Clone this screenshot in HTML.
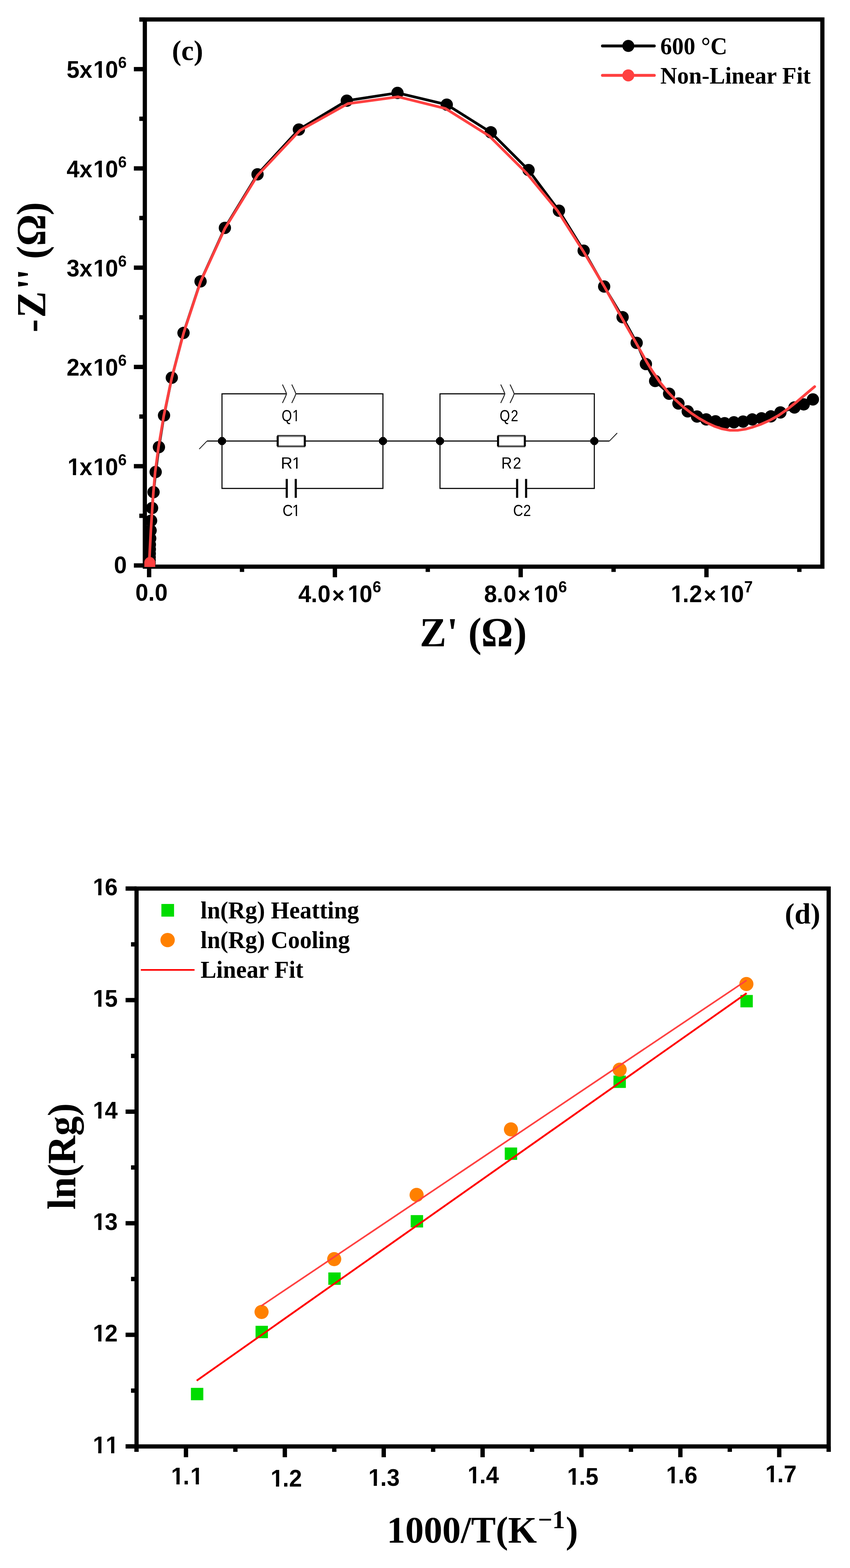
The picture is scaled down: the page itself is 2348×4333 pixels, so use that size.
<!DOCTYPE html>
<html lang="en">
<head>
<meta charset="utf-8">
<title>Impedance plots</title>
<style>
html,body{margin:0;padding:0;background:#fff;}
body{width:2348px;height:4333px;overflow:hidden;}
svg{display:block;}
text{white-space:pre;}
.tk{font-family:'Liberation Sans', Arial, sans-serif;font-weight:bold;font-size:64px;fill:#000;}
.sup{font-family:'Liberation Sans', Arial, sans-serif;font-weight:bold;font-size:42.5px;fill:#000;}
.lg{font-family:'Liberation Serif', 'Times New Roman', serif;font-weight:bold;font-size:64.4px;fill:#000;}
.pl{font-family:'Liberation Serif', 'Times New Roman', serif;font-weight:bold;font-size:77.5px;fill:#000;}
.ttl{font-family:'Liberation Serif', 'Times New Roman', serif;font-weight:bold;font-size:110px;fill:#000;}
.ct{font-family:'Liberation Sans', Arial, sans-serif;font-size:44.5px;fill:#000;}
</style>
</head>
<body>
<svg width="2348" height="4333" viewBox="0 0 2348 4333">
<rect x="0" y="0" width="2348" height="4333" fill="#ffffff"/>

<g id="plot-c">
<clipPath id="clipc"><rect x="394.1" y="53.8" width="1877.6" height="1512.9"/></clipPath>
<rect x="400.1" y="53.8" width="1871.6" height="1512.1000000000001" stroke="#000" stroke-width="11.6" fill="none"/>
<g stroke="#000" stroke-width="12" fill="none">
<line x1="369.8" y1="1562.6" x2="400.1" y2="1562.6"/>
<line x1="369.8" y1="1288.3" x2="400.1" y2="1288.3"/>
<line x1="369.8" y1="1014.0" x2="400.1" y2="1014.0"/>
<line x1="369.8" y1="739.7" x2="400.1" y2="739.7"/>
<line x1="369.8" y1="465.4" x2="400.1" y2="465.4"/>
<line x1="369.8" y1="191.1" x2="400.1" y2="191.1"/>
<line x1="384.8" y1="1425.4" x2="400.1" y2="1425.4"/>
<line x1="384.8" y1="1151.1" x2="400.1" y2="1151.1"/>
<line x1="384.8" y1="876.8" x2="400.1" y2="876.8"/>
<line x1="384.8" y1="602.5" x2="400.1" y2="602.5"/>
<line x1="384.8" y1="328.2" x2="400.1" y2="328.2"/>
<line x1="384.8" y1="53.9" x2="400.1" y2="53.9"/>
<line x1="411.9" y1="1565.9" x2="411.9" y2="1595.2"/>
<line x1="925.1" y1="1565.9" x2="925.1" y2="1595.2"/>
<line x1="1438.3" y1="1565.9" x2="1438.3" y2="1595.2"/>
<line x1="1951.5" y1="1565.9" x2="1951.5" y2="1595.2"/>
<line x1="668.5" y1="1565.9" x2="668.5" y2="1580.5"/>
<line x1="1181.7" y1="1565.9" x2="1181.7" y2="1580.5"/>
<line x1="1694.9" y1="1565.9" x2="1694.9" y2="1580.5"/>
<line x1="2208.1" y1="1565.9" x2="2208.1" y2="1580.5"/>
</g>
<g id="circuit" stroke="#000" fill="none" stroke-width="2.9">
<path d="M791.6 1088.2 H613.2 V1349.7 H792.1 M817.0 1349.7 H1057.8 V1088.2 H817.4"/>
<path d="M613.2 1218.8 H766.2 M842.8 1218.8 H1057.8"/>
<rect x="767.05" y="1203.45" width="74.90" height="30.90" stroke="#333" stroke-width="2.9" fill="#fff"/>
<path d="M769.9 1206.35 H839.1 M769.9 1231.45 H839.1" stroke="#888" stroke-width="2.9"/>
<path d="M767.05 1204.9 V1232.9 M841.95 1204.9 V1232.9" stroke="#000" stroke-width="5.7"/>
<path d="M780.2 1062.6 L788.0 1079 L791.6 1088.2 L788.0 1097.4 L780.2 1113.6" stroke="#2b2b2b" stroke-width="2.7" stroke-linejoin="round"/>
<path d="M806.0 1062.6 L813.8 1079 L817.4 1088.2 L813.8 1097.4 L806.0 1113.6" stroke="#2b2b2b" stroke-width="2.7" stroke-linejoin="round"/>
<path d="M792.1 1323.4 V1375.7 M817.0 1323.4 V1375.7" stroke-width="5.9"/>
<path d="M608.8 1207.8 H617.6 L624.2 1214.4 V1223.2 L617.6 1229.8 H608.8 L602.2 1223.2 V1214.4 Z" fill="#000" stroke="none"/>
<path d="M1053.4 1207.8 H1062.2 L1068.8 1214.4 V1223.2 L1062.2 1229.8 H1053.4 L1046.8 1223.2 V1214.4 Z" fill="#000" stroke="none"/>
<path d="M1394.6 1088.2 H1215.4 V1349.7 H1428.5 M1453.3 1349.7 H1641.7 V1088.2 H1420.4"/>
<path d="M1215.4 1218.8 H1374.9 M1450.6 1218.8 H1641.7"/>
<rect x="1375.75" y="1203.45" width="74.00" height="30.90" stroke="#333" stroke-width="2.9" fill="#fff"/>
<path d="M1378.6 1206.35 H1446.9 M1378.6 1231.45 H1446.9" stroke="#888" stroke-width="2.9"/>
<path d="M1375.75 1204.9 V1232.9 M1449.75 1204.9 V1232.9" stroke="#000" stroke-width="5.7"/>
<path d="M1383.2 1062.6 L1391.0 1079 L1394.6 1088.2 L1391.0 1097.4 L1383.2 1113.6" stroke="#2b2b2b" stroke-width="2.7" stroke-linejoin="round"/>
<path d="M1409.0 1062.6 L1416.8 1079 L1420.4 1088.2 L1416.8 1097.4 L1409.0 1113.6" stroke="#2b2b2b" stroke-width="2.7" stroke-linejoin="round"/>
<path d="M1428.5 1323.4 V1375.7 M1453.3 1323.4 V1375.7" stroke-width="5.9"/>
<path d="M1211.0 1207.8 H1219.8 L1226.4 1214.4 V1223.2 L1219.8 1229.8 H1211.0 L1204.4 1223.2 V1214.4 Z" fill="#000" stroke="none"/>
<path d="M1637.3 1207.8 H1646.1 L1652.7 1214.4 V1223.2 L1646.1 1229.8 H1637.3 L1630.7 1223.2 V1214.4 Z" fill="#000" stroke="none"/>
<path d="M1057.8 1218.8 H1215.4"/>
<path d="M613.2 1218.8 H571.8"/>
<path d="M1641.7 1218.8 H1683.4"/>
<path d="M571.8 1218.8 L550.3 1241.0 M1683.4 1218.8 L1704.9 1196.6" stroke-width="2.3" stroke="#1c1c1c"/>
</g>
<g transform="translate(777.9,1164.4) scale(0.82,1)">
<text class="ct" x="0 36.0" y="0">Q1</text>
<path d="M38.39 -4.52 H47.19 V1.2 H38.39 Z M51.12 -4.52 H59.57 V1.2 H51.12 Z" fill="#fff"/>
</g>
<g transform="translate(775.8,1294.9) scale(1.0,1)">
<text class="ct" x="0 30.9" y="0">R1</text>
<path d="M33.26 -4.52 H42.06 V1.2 H33.26 Z M45.99 -4.52 H54.44 V1.2 H45.99 Z" fill="#fff"/>
</g>
<g transform="translate(780.4,1425.6) scale(0.89,1)">
<text class="ct" x="0 30.0" y="0">C1</text>
<path d="M32.39 -4.52 H41.19 V1.2 H32.39 Z M45.12 -4.52 H53.58 V1.2 H45.12 Z" fill="#fff"/>
</g>
<g transform="translate(1380.2,1164.4) scale(0.82,1)">
<text class="ct" x="0 37.9" y="0">Q2</text>
</g>
<g transform="translate(1384.8,1294.9) scale(0.92,1)">
<text class="ct" x="0 35.0" y="0">R2</text>
</g>
<g transform="translate(1417.4,1425.9) scale(0.86,1)">
<text class="ct" x="0 32.6" y="0">C2</text>
</g>
<g clip-path="url(#clipc)">
<polyline fill="none" stroke="#000" stroke-width="7.4" stroke-linejoin="round" points="413.3,1555.6 413.4,1548.0 413.5,1540.0 413.7,1530.0 413.9,1518.0 414.0,1505.0 414.9,1487.7 416.0,1466.0 417.4,1438.8 420.1,1403.9 424.1,1360.0 430.0,1304.3 439.0,1235.5 453.1,1147.9 474.6,1043.8 506.9,920.1 554.0,777.6 621.2,629.7 711.4,481.8 825.6,358.0 958.0,278.2 1098.0,256.7 1234.1,289.2 1355.8,365.6 1460.1,469.9 1544.0,582.3 1612.3,692.7 1668.9,791.8 1719.8,876.6 1758.7,947.5 1784.2,1006.1 1809.7,1052.8 1848.3,1088.0 1874.1,1115.0 1899.7,1136.8 1925.4,1151.0 1950.8,1159.0 1976.5,1164.3 2001.6,1169.5 2027.2,1167.0 2052.6,1165.0 2078.1,1159.1 2103.6,1156.0 2129.4,1150.6 2155.8,1139.8 2194.5,1126.0 2220.1,1117.4 2245.5,1103.7"/>
<circle cx="413.3" cy="1555.6" r="17" fill="#000"/>
<circle cx="413.4" cy="1548.0" r="17" fill="#000"/>
<circle cx="413.5" cy="1540.0" r="17" fill="#000"/>
<circle cx="413.7" cy="1530.0" r="17" fill="#000"/>
<circle cx="413.9" cy="1518.0" r="17" fill="#000"/>
<circle cx="414.0" cy="1505.0" r="17" fill="#000"/>
<circle cx="414.9" cy="1487.7" r="17" fill="#000"/>
<circle cx="416.0" cy="1466.0" r="17" fill="#000"/>
<circle cx="417.4" cy="1438.8" r="17" fill="#000"/>
<circle cx="420.1" cy="1403.9" r="17" fill="#000"/>
<circle cx="424.1" cy="1360.0" r="17" fill="#000"/>
<circle cx="430.0" cy="1304.3" r="17" fill="#000"/>
<circle cx="439.0" cy="1235.5" r="17" fill="#000"/>
<circle cx="453.1" cy="1147.9" r="17" fill="#000"/>
<circle cx="474.6" cy="1043.8" r="17" fill="#000"/>
<circle cx="506.9" cy="920.1" r="17" fill="#000"/>
<circle cx="554.0" cy="777.6" r="17" fill="#000"/>
<circle cx="621.2" cy="629.7" r="17" fill="#000"/>
<circle cx="711.4" cy="481.8" r="17" fill="#000"/>
<circle cx="825.6" cy="358.0" r="17" fill="#000"/>
<circle cx="958.0" cy="278.2" r="17" fill="#000"/>
<circle cx="1098.0" cy="256.7" r="17" fill="#000"/>
<circle cx="1234.1" cy="289.2" r="17" fill="#000"/>
<circle cx="1355.8" cy="365.6" r="17" fill="#000"/>
<circle cx="1460.1" cy="469.9" r="17" fill="#000"/>
<circle cx="1544.0" cy="582.3" r="17" fill="#000"/>
<circle cx="1612.3" cy="692.7" r="17" fill="#000"/>
<circle cx="1668.9" cy="791.8" r="17" fill="#000"/>
<circle cx="1719.8" cy="876.6" r="17" fill="#000"/>
<circle cx="1758.7" cy="947.5" r="17" fill="#000"/>
<circle cx="1784.2" cy="1006.1" r="17" fill="#000"/>
<circle cx="1809.7" cy="1052.8" r="17" fill="#000"/>
<circle cx="1848.3" cy="1088.0" r="17" fill="#000"/>
<circle cx="1874.1" cy="1115.0" r="17" fill="#000"/>
<circle cx="1899.7" cy="1136.8" r="17" fill="#000"/>
<circle cx="1925.4" cy="1151.0" r="17" fill="#000"/>
<circle cx="1950.8" cy="1159.0" r="17" fill="#000"/>
<circle cx="1976.5" cy="1164.3" r="17" fill="#000"/>
<circle cx="2001.6" cy="1169.5" r="17" fill="#000"/>
<circle cx="2027.2" cy="1167.0" r="17" fill="#000"/>
<circle cx="2052.6" cy="1165.0" r="17" fill="#000"/>
<circle cx="2078.1" cy="1159.1" r="17" fill="#000"/>
<circle cx="2103.6" cy="1156.0" r="17" fill="#000"/>
<circle cx="2129.4" cy="1150.6" r="17" fill="#000"/>
<circle cx="2155.8" cy="1139.8" r="17" fill="#000"/>
<circle cx="2194.5" cy="1126.0" r="17" fill="#000"/>
<circle cx="2220.1" cy="1117.4" r="17" fill="#000"/>
<circle cx="2245.5" cy="1103.7" r="17" fill="#000"/>
<polyline fill="none" stroke="#ff4040" stroke-width="7.4" stroke-linejoin="round" stroke-linecap="round" points="412.5,1548.0 416.7,1466.0 420.7,1403.9 423.7,1360.0 428.6,1304.3 437.8,1235.5 452.6,1147.9 474.6,1043.8 507.3,920.1 554.2,778.0 621.5,631.0 711.5,484.5 828.4,360.5 960.9,286.5 1099.8,267.5 1230.4,299.8 1351.3,375.6 1454.5,478.4 1540.1,582.4 1610.3,692.7 1669.6,792.1 1716.5,876.6 1755.0,944.0 1786.4,1000.0 1801.5,1024.7 1823.0,1056.3 1844.5,1082.7 1866.0,1105.3 1887.5,1124.6 1908.9,1141.2 1930.4,1155.8 1951.9,1168.0 1973.4,1177.9 1994.9,1185.2 2016.4,1189.1 2037.9,1189.1 2059.4,1185.9 2080.0,1180.1 2100.4,1173.1 2125.5,1161.9 2150.6,1148.1 2175.6,1130.5 2200.7,1110.5 2225.8,1089.1 2250.4,1068.3"/>
<path d="M398.7 1568 V1554.4 A15.1 15.1 0 0 1 428.9 1554.4 V1568 Z" fill="#ff4040"/>
</g>
<g transform="translate(184.0,1312.6) scale(1,1.04)">
<text class="tk" x="2.4 35.6 73.6 106.8" y="0">1x10<tspan class="sup" x="142.3" dy="-26.06">6</tspan></text>
<path d="M5.63 -7.73 H17.34 V1 H5.63 Z M26.12 -7.73 H37.01 V1 H26.12 Z" fill="#fff"/>
<path d="M76.82 -7.73 H88.52 V1 H76.82 Z M97.31 -7.73 H108.20 V1 H97.31 Z" fill="#fff"/>
</g>
<g transform="translate(184.0,1038.3) scale(1,1.04)">
<text class="tk" x="0.0 35.6 73.6 106.8" y="0">2x10<tspan class="sup" x="142.3" dy="-26.06">6</tspan></text>
<path d="M76.82 -7.73 H88.52 V1 H76.82 Z M97.31 -7.73 H108.20 V1 H97.31 Z" fill="#fff"/>
</g>
<g transform="translate(184.0,764.0) scale(1,1.04)">
<text class="tk" x="0.0 35.6 73.6 106.8" y="0">3x10<tspan class="sup" x="142.3" dy="-26.06">6</tspan></text>
<path d="M76.82 -7.73 H88.52 V1 H76.82 Z M97.31 -7.73 H108.20 V1 H97.31 Z" fill="#fff"/>
</g>
<g transform="translate(184.0,489.7) scale(1,1.04)">
<text class="tk" x="0.0 35.6 73.6 106.8" y="0">4x10<tspan class="sup" x="142.3" dy="-26.06">6</tspan></text>
<path d="M76.82 -7.73 H88.52 V1 H76.82 Z M97.31 -7.73 H108.20 V1 H97.31 Z" fill="#fff"/>
</g>
<g transform="translate(184.0,215.4) scale(1,1.04)">
<text class="tk" x="0.0 35.6 73.6 106.8" y="0">5x10<tspan class="sup" x="142.3" dy="-26.06">6</tspan></text>
<path d="M76.82 -7.73 H88.52 V1 H76.82 Z M97.31 -7.73 H108.20 V1 H97.31 Z" fill="#fff"/>
</g>
<g transform="translate(314.7,1583.6) scale(1,1.04)">
<text class="tk" x="0.0" y="0">0</text>
</g>
<g transform="translate(374.0,1659.8) scale(1,1.04)">
<text class="tk" x="0.0 35.6 53.4" y="0">0.0</text>
</g>
<g transform="translate(824.1,1664.0) scale(1,1.04)">
<text class="tk" x="0.0 35.0 53.4 93.2 136.3 169.0" y="0">4.0<tspan style="font-size:59.5px" dy="2.3">×</tspan><tspan dy="-2.3">10</tspan><tspan class="sup" x="205.2" dy="-26.15">6</tspan></text>
<path d="M139.53 -7.73 H151.24 V1 H139.53 Z M160.02 -7.73 H170.91 V1 H160.02 Z" fill="#fff"/>
</g>
<g transform="translate(1337.3,1664.0) scale(1,1.04)">
<text class="tk" x="0.0 35.0 53.4 93.2 136.3 169.0" y="0">8.0<tspan style="font-size:59.5px" dy="2.3">×</tspan><tspan dy="-2.3">10</tspan><tspan class="sup" x="205.2" dy="-26.15">6</tspan></text>
<path d="M139.53 -7.73 H151.24 V1 H139.53 Z M160.02 -7.73 H170.91 V1 H160.02 Z" fill="#fff"/>
</g>
<g transform="translate(1850.5,1664.0) scale(1,1.04)">
<text class="tk" x="2.4 35.0 53.4 93.2 136.3 169.0" y="0">1.2<tspan style="font-size:59.5px" dy="2.3">×</tspan><tspan dy="-2.3">10</tspan><tspan class="sup" x="205.2" dy="-26.15">7</tspan></text>
<path d="M5.63 -7.73 H17.34 V1 H5.63 Z M26.12 -7.73 H37.01 V1 H26.12 Z" fill="#fff"/>
<path d="M139.53 -7.73 H151.24 V1 H139.53 Z M160.02 -7.73 H170.91 V1 H160.02 Z" fill="#fff"/>
</g>
<text class="ttl" transform="translate(0.0,1785.6) scale(1,1.03)" x="1159.5 1234.6 1265.0 1293.6 1329.2 1418.4" y="0">Z' (Ω)</text>
<text class="ttl" transform="translate(125.0,920.0) rotate(-90) scale(1,1.03)" x="1.4 41.7 119.5 146.6 177.2 203.9 239.9 325.0" y="0">-Z'' (Ω)</text>
<text class="pl" transform="translate(475.0,166.0) scale(1,1.0)" x="0" y="0">(c)</text>
<line x1="1664.2" y1="126.9" x2="1807.4" y2="126.9" stroke="#000" stroke-width="8" stroke-linecap="round"/>
<circle cx="1735.6" cy="126.9" r="16.6" fill="#000"/>
<line x1="1664.2" y1="208.3" x2="1807.4" y2="208.3" stroke="#ff4040" stroke-width="8" stroke-linecap="round"/>
<circle cx="1735.6" cy="208.3" r="16.6" fill="#ff4040"/>
<text class="lg" transform="translate(1824.0,150.3) scale(1,1.04)" x="0" y="0">600 °C</text>
<text class="lg" transform="translate(1824.0,231.4) scale(1,1.03)" x="0" y="0">Non-Linear Fit</text>
</g>
<g id="plot-d">
<rect x="377.2" y="2455.4" width="1911.8999999999999" height="1541.6999999999998" stroke="#000" stroke-width="11.6" fill="none"/>
<g stroke="#000" stroke-width="12" fill="none">
<line x1="346.9" y1="3996.9" x2="377.2" y2="3996.9"/>
<line x1="346.9" y1="3688.6" x2="377.2" y2="3688.6"/>
<line x1="346.9" y1="3380.3" x2="377.2" y2="3380.3"/>
<line x1="346.9" y1="3072.0" x2="377.2" y2="3072.0"/>
<line x1="346.9" y1="2763.7" x2="377.2" y2="2763.7"/>
<line x1="346.9" y1="2455.4" x2="377.2" y2="2455.4"/>
<line x1="361.9" y1="3842.8" x2="377.2" y2="3842.8"/>
<line x1="361.9" y1="3534.4" x2="377.2" y2="3534.4"/>
<line x1="361.9" y1="3226.2" x2="377.2" y2="3226.2"/>
<line x1="361.9" y1="2917.9" x2="377.2" y2="2917.9"/>
<line x1="361.9" y1="2609.6" x2="377.2" y2="2609.6"/>
<line x1="513.7" y1="3997.1" x2="513.7" y2="4026.9"/>
<line x1="786.8" y1="3997.1" x2="786.8" y2="4026.9"/>
<line x1="1060.0" y1="3997.1" x2="1060.0" y2="4026.9"/>
<line x1="1333.1" y1="3997.1" x2="1333.1" y2="4026.9"/>
<line x1="1606.2" y1="3997.1" x2="1606.2" y2="4026.9"/>
<line x1="1879.4" y1="3997.1" x2="1879.4" y2="4026.9"/>
<line x1="2152.5" y1="3997.1" x2="2152.5" y2="4026.9"/>
<line x1="377.1" y1="3997.1" x2="377.1" y2="4012.1"/>
<line x1="650.2" y1="3997.1" x2="650.2" y2="4012.1"/>
<line x1="923.4" y1="3997.1" x2="923.4" y2="4012.1"/>
<line x1="1196.5" y1="3997.1" x2="1196.5" y2="4012.1"/>
<line x1="1469.7" y1="3997.1" x2="1469.7" y2="4012.1"/>
<line x1="1742.8" y1="3997.1" x2="1742.8" y2="4012.1"/>
<line x1="2015.9" y1="3997.1" x2="2015.9" y2="4012.1"/>
<line x1="2289.1" y1="3997.1" x2="2289.1" y2="4012.1"/>
</g>
<rect x="527.4" y="3835.2" width="34.2" height="34.2" fill="#00dc00"/>
<rect x="705.9" y="3663.7" width="34.2" height="34.2" fill="#00dc00"/>
<rect x="906.9" y="3516.3" width="34.2" height="34.2" fill="#00dc00"/>
<rect x="1134.5" y="3357.8" width="34.2" height="34.2" fill="#00dc00"/>
<rect x="1394.3" y="3171.0" width="34.2" height="34.2" fill="#00dc00"/>
<rect x="1694.6" y="2972.2" width="34.2" height="34.2" fill="#00dc00"/>
<rect x="2045.3" y="2749.5" width="34.2" height="34.2" fill="#00dc00"/>
<line x1="543.4" y1="3815.2" x2="2062.4" y2="2744.6" stroke="#ff0000" stroke-width="5.0"/>
<circle cx="722.5" cy="3625.4" r="19.5" fill="#ff8000"/>
<circle cx="923.2" cy="3479.4" r="19.5" fill="#ff8000"/>
<circle cx="1150.8" cy="3302.1" r="19.5" fill="#ff8000"/>
<circle cx="1411.4" cy="3121.1" r="19.5" fill="#ff8000"/>
<circle cx="1711.7" cy="2956.0" r="19.5" fill="#ff8000"/>
<circle cx="2061.8" cy="2719.3" r="19.5" fill="#ff8000"/>
<line x1="721.3" y1="3609.0" x2="2062.4" y2="2709" stroke="#ff4040" stroke-width="4.4"/>
<g transform="translate(254.0,4015.6) scale(1,1.04)">
<text class="tk" x="2.4 38.0" y="0">11</text>
<path d="M5.63 -7.73 H17.34 V1 H5.63 Z M26.12 -7.73 H37.01 V1 H26.12 Z" fill="#fff"/>
<path d="M41.23 -7.73 H52.93 V1 H41.23 Z M61.71 -7.73 H72.60 V1 H61.71 Z" fill="#fff"/>
</g>
<g transform="translate(254.0,3707.3) scale(1,1.04)">
<text class="tk" x="2.4 35.6" y="0">12</text>
<path d="M5.63 -7.73 H17.34 V1 H5.63 Z M26.12 -7.73 H37.01 V1 H26.12 Z" fill="#fff"/>
</g>
<g transform="translate(254.0,3399.0) scale(1,1.04)">
<text class="tk" x="2.4 35.6" y="0">13</text>
<path d="M5.63 -7.73 H17.34 V1 H5.63 Z M26.12 -7.73 H37.01 V1 H26.12 Z" fill="#fff"/>
</g>
<g transform="translate(254.0,3090.7) scale(1,1.04)">
<text class="tk" x="2.4 35.6" y="0">14</text>
<path d="M5.63 -7.73 H17.34 V1 H5.63 Z M26.12 -7.73 H37.01 V1 H26.12 Z" fill="#fff"/>
</g>
<g transform="translate(254.0,2782.4) scale(1,1.04)">
<text class="tk" x="2.4 35.6" y="0">15</text>
<path d="M5.63 -7.73 H17.34 V1 H5.63 Z M26.12 -7.73 H37.01 V1 H26.12 Z" fill="#fff"/>
</g>
<g transform="translate(254.0,2474.1) scale(1,1.04)">
<text class="tk" x="2.4 35.6" y="0">16</text>
<path d="M5.63 -7.73 H17.34 V1 H5.63 Z M26.12 -7.73 H37.01 V1 H26.12 Z" fill="#fff"/>
</g>
<g transform="translate(470.0,4102.0) scale(1,1.04)">
<text class="tk" x="2.4 35.6 55.8" y="0">1.1</text>
<path d="M5.63 -7.73 H17.34 V1 H5.63 Z M26.12 -7.73 H37.01 V1 H26.12 Z" fill="#fff"/>
<path d="M59.01 -7.73 H70.71 V1 H59.01 Z M79.49 -7.73 H90.39 V1 H79.49 Z" fill="#fff"/>
</g>
<g transform="translate(745.0,4108.0) scale(1,1.04)">
<text class="tk" x="2.4 35.6 53.4" y="0">1.2</text>
<path d="M5.63 -7.73 H17.34 V1 H5.63 Z M26.12 -7.73 H37.01 V1 H26.12 Z" fill="#fff"/>
</g>
<g transform="translate(1015.0,4106.4) scale(1,1.04)">
<text class="tk" x="2.4 35.6 53.4" y="0">1.3</text>
<path d="M5.63 -7.73 H17.34 V1 H5.63 Z M26.12 -7.73 H37.01 V1 H26.12 Z" fill="#fff"/>
</g>
<g transform="translate(1289.0,4099.4) scale(1,1.04)">
<text class="tk" x="2.4 35.6 53.4" y="0">1.4</text>
<path d="M5.63 -7.73 H17.34 V1 H5.63 Z M26.12 -7.73 H37.01 V1 H26.12 Z" fill="#fff"/>
</g>
<g transform="translate(1564.0,4103.0) scale(1,1.04)">
<text class="tk" x="2.4 35.6 53.4" y="0">1.5</text>
<path d="M5.63 -7.73 H17.34 V1 H5.63 Z M26.12 -7.73 H37.01 V1 H26.12 Z" fill="#fff"/>
</g>
<g transform="translate(1837.5,4099.4) scale(1,1.04)">
<text class="tk" x="2.4 35.6 53.4" y="0">1.6</text>
<path d="M5.63 -7.73 H17.34 V1 H5.63 Z M26.12 -7.73 H37.01 V1 H26.12 Z" fill="#fff"/>
</g>
<g transform="translate(2111.5,4096.4) scale(1,1.04)">
<text class="tk" x="2.4 35.6 53.4" y="0">1.7</text>
<path d="M5.63 -7.73 H17.34 V1 H5.63 Z M26.12 -7.73 H37.01 V1 H26.12 Z" fill="#fff"/>
</g>
<rect x="445.8" y="2498" width="35" height="35" fill="#00dc00"/>
<circle cx="463" cy="2597.7" r="19.8" fill="#ff8000"/>
<line x1="389" y1="2680.2" x2="537.4" y2="2680.2" stroke="#ff0000" stroke-width="4.6"/>
<text class="lg" style="font-size:65.4px" transform="translate(554.0,2537.7) scale(1,1.03)" x="0" y="0">ln(Rg) Heatting</text>
<text class="lg" style="font-size:65.4px" transform="translate(554.0,2620.2) scale(1,1.03)" x="0" y="0">ln(Rg) Cooling</text>
<text class="lg" style="font-size:65.4px" transform="translate(554.0,2702.2) scale(1,1.03)" x="0" y="0">Linear Fit</text>
<text class="pl" style="font-size:80px" transform="translate(2168.0,2552.0) scale(1,1.0)" x="0" y="0">(d)</text>
<text class="ttl" style="font-size:102.2px" transform="translate(1068.5,4263.3) scale(1,1.02)" x="0" y="0">1000/T(K<tspan style="font-size:70px" dy="-39.6" dx="3">−1</tspan><tspan dy="39.6" dx="2">)</tspan></text>
<text class="ttl" style="font-size:108px" transform="translate(208.0,3342.5) rotate(-90) scale(1,1.02)" x="0" y="0">ln(Rg)</text>
</g>
</svg>
</body>
</html>
